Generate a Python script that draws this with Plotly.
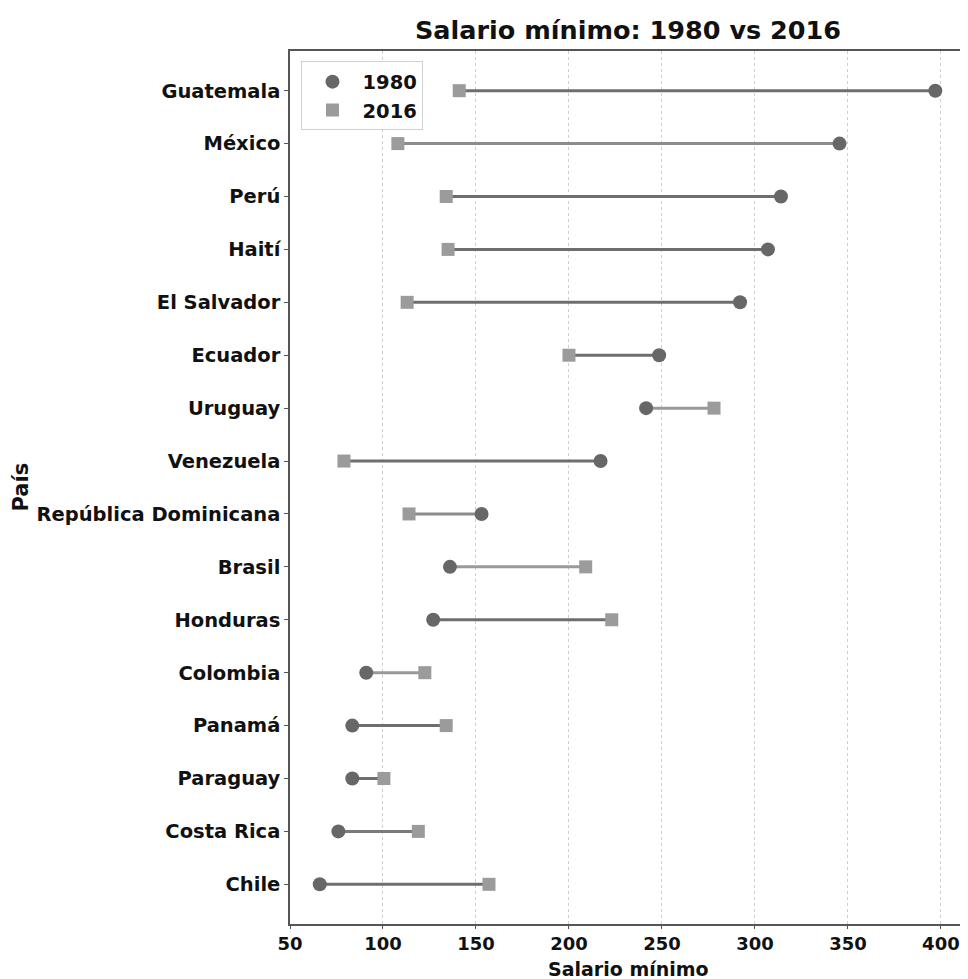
import plotly.graph_objects as go

paises = ["Guatemala", "México", "Perú", "Haití", "El Salvador", "Ecuador", "Uruguay",
          "Venezuela", "República Dominicana", "Brasil", "Honduras", "Colombia",
          "Panamá", "Paraguay", "Costa Rica", "Chile"]
salario_1980 = [397, 345.5, 314, 307, 292, 248.5, 241.5, 217, 153, 136, 127, 91, 83.5, 83.5, 76, 66]
salario_2016 = [141, 108, 134, 135, 113, 200, 278, 79, 114, 209, 223, 122.5, 134, 100.5, 119, 157]
x_ticks = [50, 100, 150, 200, 250, 300, 350, 400]

# style: line shade per row
line_colors = ["#6e6e6e", "#8c8c8c", "#6e6e6e", "#6e6e6e", "#6e6e6e", "#6e6e6e", "#999999",
               "#6e6e6e", "#8c8c8c", "#999999", "#6e6e6e", "#999999",
               "#6e6e6e", "#6e6e6e", "#7a7a7a", "#6e6e6e"]

FONT = "DejaVu Sans"
TXT = "#111111"
fig = go.Figure()

for p, a, b, c in zip(paises, salario_1980, salario_2016, line_colors):
    fig.add_trace(go.Scatter(x=[a, b], y=[p, p], mode="lines",
                             line=dict(color=c, width=3), showlegend=False,
                             hoverinfo="skip"))

fig.add_trace(go.Scatter(x=salario_1980, y=paises, mode="markers", name="1980",
                         marker=dict(symbol="circle", size=14, color="#676767")))
fig.add_trace(go.Scatter(x=salario_2016, y=paises, mode="markers", name="2016",
                         marker=dict(symbol="square", size=13, color="#9b9b9b")))

fig.update_layout(
    width=968, height=979,
    margin=dict(l=282, r=10, t=43, b=63, autoexpand=False),
    paper_bgcolor="white", plot_bgcolor="white",
    font=dict(family=FONT, color=TXT),
    title=dict(text="Salario mínimo: 1980 vs 2016", x=0.6405, xanchor="center",
               y=0.9775, yanchor="middle",
               font=dict(family=FONT, size=25.5, weight="bold", color=TXT)),
    legend=dict(x=0.017, y=0.988, xanchor="left", yanchor="top",
                bgcolor="rgba(255,255,255,0.9)", bordercolor="#d0d0d0", borderwidth=1,
                font=dict(family=FONT, size=19.5, weight="bold"),
                itemwidth=50, tracegroupgap=4),
    annotations=[
        dict(text="Salario mínimo", xref="paper", yref="paper", x=0.5, y=-0.0515,
             xanchor="center", yanchor="middle", showarrow=False, borderpad=0,
             font=dict(family=FONT, size=19, weight="bold", color=TXT)),
        dict(text="País", xref="paper", yref="paper", x=-0.3994, y=0.5,
             xanchor="center", yanchor="middle", showarrow=False, textangle=-90,
             font=dict(family=FONT, size=21, weight="bold", color=TXT)),
    ],
)

fig.update_xaxes(
    range=[50, 413.5], tickvals=x_ticks, ticktext=[str(t) for t in x_ticks],
    showgrid=True, gridcolor="#cfcfcf", griddash="dot", gridwidth=1,
    showline=True, linecolor="#555555", linewidth=1.5, mirror=True,
    ticks="outside", ticklen=3, tickcolor="#555555", automargin=False,
    tickfont=dict(family=FONT, size=18, weight="bold", color=TXT),
    zeroline=False,
)
fig.update_yaxes(
    type="category", categoryorder="array", categoryarray=paises,
    range=[15.75, -0.75],
    showgrid=False, automargin=False,
    showline=True, linecolor="#555555", linewidth=1.5, mirror=True,
    ticks="outside", ticklen=4, tickcolor="#555555",
    tickfont=dict(family=FONT, size=19.5, weight="bold", color=TXT),
)

fig.write_html("out.html")
